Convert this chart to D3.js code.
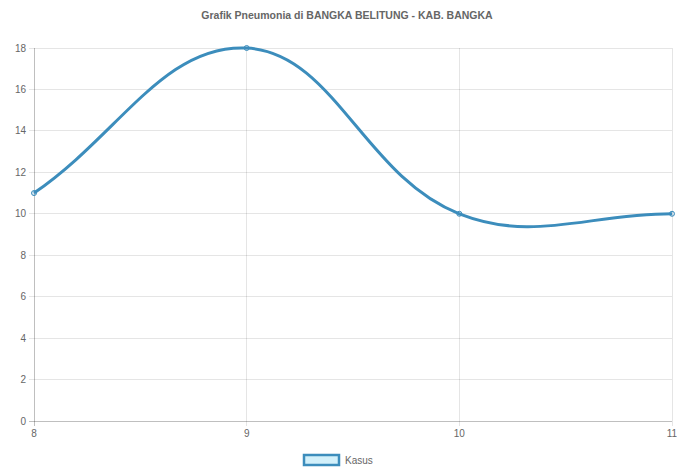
<!DOCTYPE html>
<html><head><meta charset="utf-8">
<script src="https://cdn.jsdelivr.net/npm/d3@7"></script>
<style>body{margin:0;background:#fff}svg{display:block;font-family:"Liberation Sans",Arial,sans-serif}</style>
</head><body><svg id="c" width="677" height="469"></svg>
<script>
const title = "Grafik Pneumonia di BANGKA BELITUNG - KAB. BANGKA";
const categories = ["8", "9", "10", "11"];
const values = [11, 18, 10, 10];
const yTicks = [0, 2, 4, 6, 8, 10, 12, 14, 16, 18];
const seriesName = "Kasus";

const svg = d3.select("#c");
const m = {l: 34, r: 5, t: 48, b: 48};
const W = 677, H = 469;
const x = d3.scalePoint().domain(categories).range([m.l, W - m.r]);
const y = d3.scaleLinear().domain([0, 18]).range([H - m.b, m.t]);
const grid = "rgba(0,0,0,0.1)";
const txt = "#666";

svg.append("text").attr("x", (m.l + W - m.r) / 2 - 6).attr("y", 19).attr("text-anchor", "middle")
  .attr("font-size", 10.5).attr("font-weight", "bold").attr("fill", txt).text(title);

// y grid
const yg = svg.append("g");
yTicks.forEach(t => {
  yg.append("line").attr("x1", m.l - 5).attr("x2", W - m.r).attr("y1", y(t)).attr("y2", y(t))
    .attr("stroke", t === 0 ? "rgba(0,0,0,0.25)" : grid).attr("shape-rendering", "crispEdges");
  yg.append("text").attr("x", m.l - 8).attr("y", y(t)).attr("dy", "0.35em").attr("text-anchor", "end")
    .attr("font-size", 10).attr("fill", txt).text(t);
});
// x grid
const xg = svg.append("g");
categories.forEach((c, i) => {
  xg.append("line").attr("x1", x(c)).attr("x2", x(c)).attr("y1", m.t).attr("y2", H - m.b + 5)
    .attr("stroke", i === 0 ? "rgba(0,0,0,0.25)" : grid).attr("shape-rendering", "crispEdges");
  xg.append("text").attr("x", x(c)).attr("y", H - m.b + 16).attr("text-anchor", "middle")
    .attr("font-size", 10).attr("fill", txt).text(c);
});

// Chart.js style spline (tension 0.4)
const pts = categories.map((c, i) => ({x: x(c), y: y(values[i])}));
const tension = 0.4;
const cps = pts.map((p, i) => {
  const prev = pts[i - 1] || p, next = pts[i + 1] || p;
  const d01 = Math.hypot(p.x - prev.x, p.y - prev.y);
  const d12 = Math.hypot(next.x - p.x, next.y - p.y);
  let s01 = d01 / (d01 + d12), s12 = d12 / (d01 + d12);
  if (isNaN(s01)) s01 = 0; if (isNaN(s12)) s12 = 0;
  const fa = tension * s01, fb = tension * s12;
  return {
    prev: {x: p.x - fa * (next.x - prev.x), y: p.y - fa * (next.y - prev.y)},
    next: {x: p.x + fb * (next.x - prev.x), y: p.y + fb * (next.y - prev.y)}
  };
});
const path = d3.path();
path.moveTo(pts[0].x, pts[0].y);
for (let i = 1; i < pts.length; i++) {
  path.bezierCurveTo(cps[i - 1].next.x, cps[i - 1].next.y, cps[i].prev.x, cps[i].prev.y, pts[i].x, pts[i].y);
}
const color = "#3c8dbc";
svg.append("path").attr("d", path.toString()).attr("fill", "none").attr("stroke", color).attr("stroke-width", 3);
svg.selectAll("circle.pt").data(pts).enter().append("circle").attr("class", "pt")
  .attr("cx", d => d.x).attr("cy", d => d.y).attr("r", 2.5)
  .attr("fill", "rgba(60,141,188,0.2)").attr("stroke", color).attr("stroke-width", 1);

// legend
const lg = svg.append("g");
lg.append("rect").attr("x", 304).attr("y", 455).attr("width", 35).attr("height", 10)
  .attr("fill", "rgba(210,240,250,1)").attr("stroke", color).attr("stroke-width", 2.5);
lg.append("text").attr("x", 345).attr("y", 460).attr("dy", "0.35em").attr("font-size", 10)
  .attr("fill", txt).text(seriesName);
</script></body></html>
